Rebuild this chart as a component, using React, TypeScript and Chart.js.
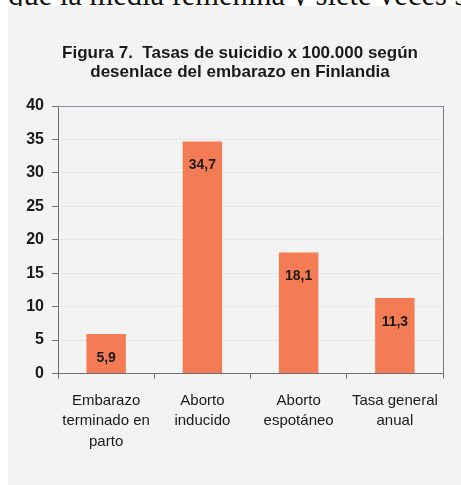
import React, { useEffect, useRef } from "react";
import { Chart, registerables } from "chart.js";

Chart.register(...registerables);

const categories: string[][] = [
  ["Embarazo", "terminado en", "parto"],
  ["Aborto", "inducido"],
  ["Aborto", "espotáneo"],
  ["Tasa general", "anual"],
];
const values: number[] = [5.9, 34.7, 18.1, 11.3];
const yTicks: number[] = [0, 5, 10, 15, 20, 25, 30, 35, 40];
const titleLines: string[] = [
  "Figura 7.  Tasas de suicidio x 100.000 según",
  "desenlace del embarazo en Finlandia",
];
const topText = "e que la media femenina y siete veces superior";

const SANS = "'Liberation Sans', Arial, sans-serif";

const titleAndFrame = {
  id: "titleAndFrame",
  beforeDraw(chart: any) {
    const { ctx } = chart;
    ctx.save();
    ctx.fillStyle = "#1a1a1a";
    ctx.font = "bold 17px " + SANS;
    ctx.textAlign = "center";
    ctx.textBaseline = "alphabetic";
    titleLines.forEach((line, i) => {
      ctx.fillText(line, 240, 58 + i * 18.6);
    });
    ctx.restore();
  },
  afterDatasetsDraw(chart: any) {
    const { ctx, chartArea } = chart;
    ctx.save();
    ctx.lineWidth = 1;
    ctx.strokeStyle = "#8a86a6";
    ctx.beginPath();
    ctx.moveTo(chartArea.left, Math.round(chartArea.top) + 0.5);
    ctx.lineTo(chartArea.right + 0.5, Math.round(chartArea.top) + 0.5);
    ctx.stroke();
    ctx.strokeStyle = "#7a7a7a";
    ctx.beginPath();
    ctx.moveTo(Math.round(chartArea.right) + 0.5, chartArea.top);
    ctx.lineTo(Math.round(chartArea.right) + 0.5, chartArea.bottom);
    ctx.stroke();
    const meta = chart.getDatasetMeta(0);
    ctx.fillStyle = "#1a1a1a";
    ctx.font = "bold 14px " + SANS;
    ctx.textAlign = "center";
    ctx.textBaseline = "middle";
    meta.data.forEach((bar: any, i: number) => {
      const txt = values[i].toFixed(1).replace(".", ",");
      ctx.fillText(txt, bar.x, bar.y + 24);
    });
    ctx.restore();
  },
};

export default function App() {
  const ref = useRef<HTMLCanvasElement | null>(null);

  useEffect(() => {
    if (!ref.current) return;
    const chart = new Chart(ref.current, {
      type: "bar",
      data: {
        labels: categories,
        datasets: [
          {
            data: values,
            backgroundColor: "#f47c55",
            borderWidth: 0,
            barPercentage: 0.41,
            categoryPercentage: 1,
          },
        ],
      },
      options: {
        responsive: false,
        animation: false,
        devicePixelRatio: 1,
        layout: { padding: { left: 0, right: 18, top: 106, bottom: 0 } },
        plugins: {
          legend: { display: false },
          tooltip: { enabled: false },
          title: { display: false },
        },
        scales: {
          x: {
            grid: {
              display: true,
              drawOnChartArea: false,
              tickLength: 5,
              tickColor: "#6f6f6f",
              offset: true,
            },
            border: { display: true, color: "#6f6f7a", width: 1 },
            ticks: {
              color: "#1a1a1a",
              padding: 12,
              maxRotation: 0,
              autoSkip: false,
              font: { family: SANS, size: 15, lineHeight: 1.367 },
            },
            afterFit: (s: any) => {
              s.height = 111.5;
            },
          },
          y: {
            min: 0,
            max: 40,
            afterBuildTicks: (s: any) => {
              s.ticks = yTicks.map((v) => ({ value: v }));
            },
            grid: {
              color: "#e7e7e7",
              tickColor: "#6f6f6f",
              tickLength: 6,
            },
            border: { display: true, color: "#6f6f6f", width: 1 },
            ticks: {
              color: "#1a1a1a",
              padding: 8,
              font: { family: SANS, size: 16, weight: "bold" },
            },
            afterFit: (s: any) => {
              s.width = 58;
            },
          },
        },
      },
      plugins: [titleAndFrame],
    });
    return () => chart.destroy();
  }, []);

  return (
    <div
      style={{
        position: "fixed",
        left: 0,
        top: 0,
        width: 461,
        height: 485,
        overflow: "hidden",
        background: "#ffffff",
      }}
    >
      <div
        style={{
          position: "absolute",
          left: -13,
          top: -20,
          whiteSpace: "nowrap",
          fontFamily: "'Liberation Serif', 'Times New Roman', serif",
          fontSize: 30.5,
          lineHeight: "30px",
          color: "#111",
        }}
      >
        {topText}
      </div>
      <div
        style={{
          position: "absolute",
          left: 8,
          top: 6,
          width: 453,
          height: 479,
          background: "#f3f3f3",
        }}
      />
      <canvas
        ref={ref}
        width={461}
        height={485}
        style={{ position: "absolute", left: 0, top: 0, width: 461, height: 485 }}
      />
    </div>
  );
}
